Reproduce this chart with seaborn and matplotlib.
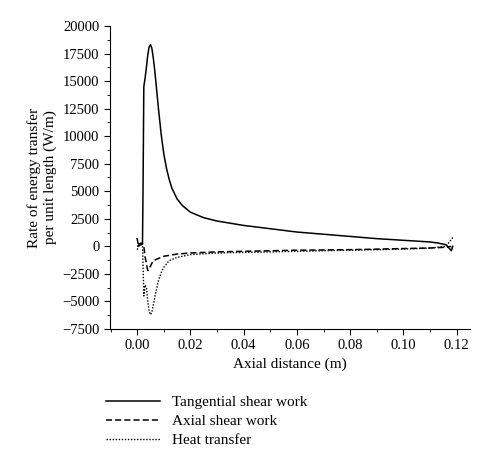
import numpy as np
import pandas as pd
import matplotlib
matplotlib.use("Agg")
import matplotlib.pyplot as plt
import seaborn as sns
from matplotlib.ticker import MultipleLocator

# data
x_tan = [0.0, 0.0003, 0.0006, 0.0015, 0.002, 0.0022, 0.0025, 0.003, 0.0035, 0.004, 0.0045, 0.005,
         0.0055, 0.006, 0.0065, 0.007, 0.008, 0.009, 0.01, 0.011, 0.012, 0.013, 0.015, 0.017,
         0.02, 0.025, 0.03, 0.04, 0.05, 0.06, 0.07, 0.08, 0.09, 0.1,
         0.11, 0.113, 0.116, 0.118, 0.1185]
y_tan = [700, 300, 200, 300, 250, 5000, 14500, 15300, 16300, 17400, 18100, 18300,
         18000, 17200, 16200, 15000, 12500, 10200, 8400, 7100, 6100, 5300, 4300, 3700,
         3100, 2600, 2300, 1900, 1600, 1300, 1100, 900, 700, 550,
         400, 300, 150, -400, 0]
x_ax = [0.0, 0.001, 0.002, 0.0025, 0.003, 0.004, 0.005, 0.006, 0.008, 0.01, 0.015, 0.02,
        0.03, 0.04, 0.06, 0.08, 0.1, 0.11, 0.116, 0.118]
y_ax = [0, 100, 200, 0, -1000, -2200, -1800, -1300, -1100, -900, -700, -600,
        -500, -450, -350, -300, -200, -150, -80, 0]
x_ht = [0.0, 0.001, 0.002, 0.0025, 0.003, 0.0035, 0.004, 0.0045, 0.005, 0.0055, 0.006, 0.007,
        0.008, 0.009, 0.01, 0.012, 0.015, 0.02, 0.03, 0.04, 0.06, 0.08, 0.1, 0.11, 0.116, 0.1185]
y_ht = [-300, 200, 300, -4500, -3500, -3800, -5000, -5900, -6200, -6000, -5400, -4200,
        -3100, -2400, -1900, -1300, -1000, -750, -600, -550, -450, -350, -250, -150, 0, 800]

plt.rcParams['font.family'] = ['Liberation Serif', 'DejaVu Serif']
fig = plt.figure(figsize=(5, 4.69), dpi=100)
ax = fig.add_axes([0.22, 0.2985, 0.72, 0.6461])

sns.lineplot(x=x_tan, y=y_tan, sort=False, color='black', lw=1.1, ax=ax, label='Tangential shear work')
sns.lineplot(x=x_ax, y=y_ax, sort=False, color='black', lw=1.1, ls=(0, (4, 2)), ax=ax, label='Axial shear work')
sns.lineplot(x=x_ht, y=y_ht, sort=False, color='black', lw=1.0, ls=(0, (1, 1.2)), ax=ax, label='Heat transfer')

ax.set_xlim(-0.0102, 0.125)
ax.set_ylim(-7500, 20000)
ax.set_xticks(np.arange(0, 0.121, 0.02))
ax.set_xticklabels([f"{v:.2f}" for v in np.arange(0, 0.121, 0.02)])
ax.set_yticks(np.arange(-7500, 20001, 2500))
ax.xaxis.set_minor_locator(MultipleLocator(0.01))
ax.yaxis.set_minor_locator(MultipleLocator(1250))
ax.tick_params(which='major', length=4, labelsize=10.5)
ax.tick_params(which='minor', length=2)
for s in ['top', 'right']:
    ax.spines[s].set_visible(False)
ax.set_xlabel('Axial distance (m)', fontsize=11)
ax.set_ylabel('Rate of energy transfer\nper unit length (W/m)', fontsize=11)

h, l = ax.get_legend_handles_labels()
ax.get_legend().remove()
fig.legend(h, l, loc='upper left', bbox_to_anchor=(0.2, 0.17), frameon=False,
           fontsize=11, handlelength=3.5, labelspacing=0.35, borderaxespad=0)

fig.savefig('out.png', dpi=100)
